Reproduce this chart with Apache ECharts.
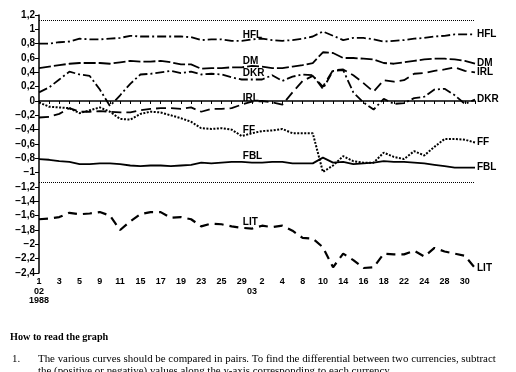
<!DOCTYPE html>
<html><head><meta charset="utf-8">
<script src="https://cdn.jsdelivr.net/npm/echarts@6/dist/echarts.min.js"></script>
<style>html,body{margin:0;padding:0;background:#fff}#c{width:516px;height:372px}</style>
</head><body><div id="c"></div>
<script>
const dates = ['02-01','02-02','02-03','02-04','02-05','02-08','02-09','02-10','02-11','02-12','02-15','02-16','02-17','02-18','02-19','02-22','02-23','02-24','02-25','02-26','02-29',
'03-01','03-02','03-03','03-04','03-07','03-08','03-09','03-10','03-11','03-14','03-15','03-16','03-17','03-18','03-21','03-22','03-23','03-24','03-25','03-28','03-29','03-30','03-31'];
const monthLabels = {'02-01':'02\n1988','03-01':'03'};
const HFL = [0.80,0.80,0.82,0.83,0.87,0.86,0.86,0.87,0.88,0.91,0.90,0.90,0.90,0.90,0.90,0.89,0.85,0.86,0.86,0.84,0.84,0.86,0.87,0.85,0.84,0.85,0.87,0.90,0.97,0.91,0.85,0.88,0.88,0.86,0.83,0.84,0.85,0.87,0.88,0.90,0.91,0.93,0.93,0.93];
const DM = [0.46,0.48,0.50,0.52,0.53,0.53,0.53,0.52,0.54,0.56,0.55,0.55,0.56,0.54,0.51,0.51,0.45,0.46,0.46,0.47,0.47,0.49,0.48,0.46,0.46,0.48,0.50,0.53,0.68,0.67,0.60,0.60,0.59,0.58,0.53,0.52,0.54,0.56,0.58,0.59,0.59,0.58,0.56,0.52];
const DKR = [0.12,0.19,0.30,0.41,0.37,0.35,0.16,-0.07,0.08,0.24,0.37,0.38,0.40,0.42,0.39,0.41,0.37,0.38,0.37,0.33,0.30,0.30,0.30,0.36,0.28,0.34,0.37,0.36,0.17,0.42,0.43,0.12,-0.02,-0.12,0.03,-0.04,-0.03,0.04,0.06,0.16,0.17,0.08,-0.04,0.02];
const IRL = [-0.23,-0.22,-0.18,-0.10,-0.15,-0.15,-0.14,-0.15,-0.16,-0.16,-0.13,-0.11,-0.10,-0.10,-0.11,-0.09,-0.15,-0.11,-0.11,-0.10,-0.05,-0.01,0.00,-0.02,-0.05,0.12,0.28,0.35,0.20,0.43,0.44,0.36,0.25,0.13,0.29,0.27,0.29,0.38,0.39,0.42,0.44,0.47,0.42,0.40];
const FF = [-0.02,-0.08,-0.09,-0.10,-0.17,-0.13,-0.09,-0.15,-0.25,-0.26,-0.18,-0.15,-0.16,-0.20,-0.24,-0.29,-0.38,-0.39,-0.38,-0.40,-0.49,-0.45,-0.42,-0.41,-0.39,-0.45,-0.45,-0.45,-0.99,-0.90,-0.77,-0.84,-0.86,-0.86,-0.72,-0.78,-0.81,-0.70,-0.76,-0.64,-0.53,-0.53,-0.54,-0.58];
const FBL = [-0.81,-0.82,-0.84,-0.85,-0.88,-0.88,-0.87,-0.87,-0.88,-0.90,-0.91,-0.90,-0.90,-0.91,-0.90,-0.89,-0.86,-0.87,-0.86,-0.85,-0.85,-0.86,-0.86,-0.85,-0.85,-0.87,-0.87,-0.87,-0.79,-0.86,-0.85,-0.88,-0.87,-0.86,-0.84,-0.85,-0.85,-0.86,-0.87,-0.89,-0.91,-0.93,-0.93,-0.93];
const LIT = [-1.65,-1.64,-1.62,-1.56,-1.58,-1.57,-1.55,-1.60,-1.80,-1.68,-1.58,-1.55,-1.55,-1.63,-1.62,-1.65,-1.75,-1.71,-1.72,-1.75,-1.77,-1.78,-1.74,-1.76,-1.74,-1.81,-1.91,-1.92,-2.04,-2.32,-2.13,-2.22,-2.33,-2.32,-2.13,-2.14,-2.14,-2.09,-2.17,-2.05,-2.10,-2.13,-2.16,-2.33];
const bandLevels = [1.125, -1.125];
const midLabelIndex = 20;

const LBL_FONT = '"Liberation Sans Narrow","Liberation Sans",Arial,sans-serif';
const AX_FONT = '"Liberation Sans",Arial,sans-serif';
const defs = [
  {name:'HFL', data:HFL, type:[9,3,2,3], w:1.8},
  {name:'DM', data:DM, type:[12,3], w:1.8},
  {name:'DKR', data:DKR, type:[9,3,2,3], w:1.8},
  {name:'IRL', data:IRL, type:[10,5], w:1.8},
  {name:'FF', data:FF, type:[2,1.5], w:2},
  {name:'FBL', data:FBL, type:'solid', w:1.8},
  {name:'LIT', data:LIT, type:[9,6], w:2.2}
];
const series = defs.map((d, k) => ({
  type:'line', name:d.name, data:d.data, showSymbol:true, showAllSymbol:true, symbol:'circle', symbolSize:0,
  lineStyle:{color:'#000', width:d.w, type:d.type}, itemStyle:{color:'#000'},
  label:{show:true, position:[1,-11], color:'#000', fontWeight:'bold', fontSize:10, fontFamily:LBL_FONT,
    formatter: p => p.dataIndex === midLabelIndex ? d.name : ''},
  endLabel:{show:true, formatter:d.name, color:'#000', fontWeight:'bold', fontSize:10, fontFamily:LBL_FONT, distance:2},
  emphasis:{disabled:true},
  markLine: k === 0 ? {silent:true, symbol:'none', label:{show:false},
    lineStyle:{color:'#000', type:[1,1], width:1}, data: bandLevels.map(v => ({yAxis:v}))} : undefined
}));

const fmtY = v => {
  const r = Math.round(v*10)/10;
  const s = Math.abs(r - Math.round(r)) < 1e-9 ? String(Math.round(r)) : r.toFixed(1).replace('.', ',');
  return s.replace('-', '\u2212');
};

const chart = echarts.init(document.getElementById('c'), null, {renderer:'canvas'});
chart.setOption({
  animation:false,
  backgroundColor:'#fff',
  grid:{left:39, right:41, top:15, bottom:99, containLabel:false},
  xAxis:[{
    type:'category', data:dates, boundaryGap:false,
    axisLine:{lineStyle:{color:'#000', width:1.5}},
    axisTick:{interval:0, length:3, inside:false, lineStyle:{color:'#000'}},
    axisLabel:{interval: i => i % 2 === 0, color:'#000', fontWeight:'bold', fontSize:9, fontFamily:AX_FONT, margin:4,
      formatter: v => String(+v.slice(3))},
    splitLine:{show:false}
  },{
    type:'category', data:dates, boundaryGap:false, position:'bottom', offset:10,
    axisLine:{show:false}, axisTick:{show:false}, splitLine:{show:false},
    axisLabel:{interval:0, color:'#000', fontWeight:'bold', fontSize:9, lineHeight:9, fontFamily:AX_FONT, margin:4,
      formatter: v => monthLabels[v] || ''}
  }],
  yAxis:{
    type:'value', min:-2.4, max:1.2, interval:0.2,
    axisLine:{show:true, lineStyle:{color:'#000', width:1.5}},
    axisTick:{show:true, length:4, lineStyle:{color:'#000'}},
    axisLabel:{color:'#000', fontWeight:'bold', fontSize:10, fontFamily:AX_FONT, margin:4, formatter: fmtY},
    splitLine:{show:false}
  },
  series: series,
  graphic:[
    {type:'text', left:10, top:332, style:{text:'How to read the graph', font:'bold 10.2px "Liberation Serif", serif', fill:'#000'}},
    {type:'text', left:12, top:354, style:{text:'1.', font:'10.9px "Liberation Serif", serif', fill:'#000'}},
    {type:'text', left:38, top:354, style:{text:'The various curves should be compared in pairs. To find the differential between two currencies, subtract', font:'10.9px "Liberation Serif", serif', fill:'#000'}},
    {type:'text', left:38, top:366, style:{text:'the (positive or negative) values along the y-axis corresponding to each currency.', font:'10.9px "Liberation Serif", serif', fill:'#000'}}
  ]
});
</script></body></html>
